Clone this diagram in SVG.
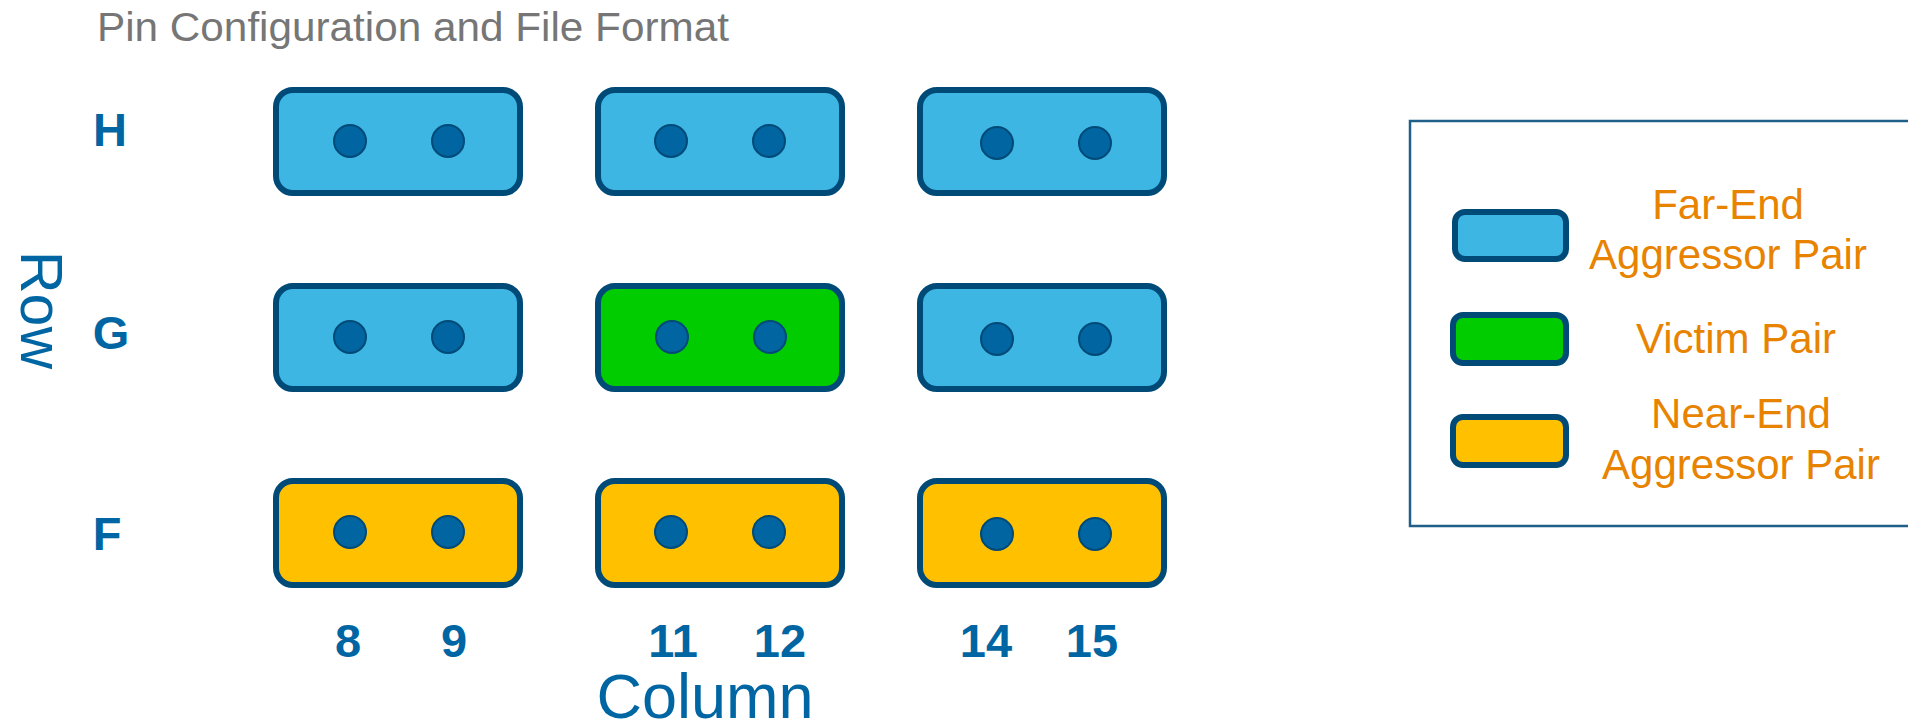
<svg xmlns="http://www.w3.org/2000/svg" width="1908" height="722" viewBox="0 0 1908 722">
<style>
.pair{stroke:#004a78;stroke-width:6}
.blue{fill:#3db6e3}
.green{fill:#00cc00}
.yellow{fill:#ffc000}
.pin{fill:#0065a0;stroke:#004a78;stroke-width:2}
.title{font-family:"Liberation Sans",Arial,sans-serif;font-size:40px;fill:#767676}
.rowlbl{font-family:"Liberation Sans",Arial,sans-serif;font-size:47px;font-weight:bold;fill:#0066a3;text-anchor:middle}
.axis{font-family:"Liberation Sans",Arial,sans-serif;fill:#0066a3;text-anchor:middle}
.leg{font-family:"Liberation Sans",Arial,sans-serif;font-size:42px;fill:#e88300;text-anchor:middle}
</style>
<rect width="1908" height="722" fill="#ffffff"/>
<text class="title" x="97" y="41" textLength="632" lengthAdjust="spacingAndGlyphs">Pin Configuration and File Format</text>

<g id="axis-labels">
<text class="axis" font-size="59" transform="translate(21,310) rotate(90)">Row</text>
<text class="rowlbl" x="110" y="146">H</text>
<text class="rowlbl" x="111" y="349">G</text>
<text class="rowlbl" x="107" y="550">F</text>
<text class="rowlbl" x="348" y="657">8</text>
<text class="rowlbl" x="454" y="657">9</text>
<text class="rowlbl" x="673" y="657">11</text>
<text class="rowlbl" x="780" y="657">12</text>
<text class="rowlbl" x="986" y="657">14</text>
<text class="rowlbl" x="1092" y="657">15</text>
<text class="axis" font-size="63" x="705" y="718">Column</text>
</g>

<g id="H8-9"><rect class="pair blue" x="276" y="90" width="244" height="103" rx="17"/><circle class="pin" cx="350" cy="141" r="16"/><circle class="pin" cx="448" cy="141" r="16"/></g>
<g id="H11-12"><rect class="pair blue" x="598" y="90" width="244" height="103" rx="17"/><circle class="pin" cx="671" cy="141" r="16"/><circle class="pin" cx="769" cy="141" r="16"/></g>
<g id="H14-15"><rect class="pair blue" x="920" y="90" width="244" height="103" rx="17"/><circle class="pin" cx="997" cy="143" r="16"/><circle class="pin" cx="1095" cy="143" r="16"/></g>

<g id="G8-9"><rect class="pair blue" x="276" y="286" width="244" height="103" rx="17"/><circle class="pin" cx="350" cy="337" r="16"/><circle class="pin" cx="448" cy="337" r="16"/></g>
<g id="G11-12"><rect class="pair green" x="598" y="286" width="244" height="103" rx="17"/><circle class="pin" cx="672" cy="337" r="16"/><circle class="pin" cx="770" cy="337" r="16"/></g>
<g id="G14-15"><rect class="pair blue" x="920" y="286" width="244" height="103" rx="17"/><circle class="pin" cx="997" cy="339" r="16"/><circle class="pin" cx="1095" cy="339" r="16"/></g>

<g id="F8-9"><rect class="pair yellow" x="276" y="481" width="244" height="104" rx="17"/><circle class="pin" cx="350" cy="532" r="16"/><circle class="pin" cx="448" cy="532" r="16"/></g>
<g id="F11-12"><rect class="pair yellow" x="598" y="481" width="244" height="104" rx="17"/><circle class="pin" cx="671" cy="532" r="16"/><circle class="pin" cx="769" cy="532" r="16"/></g>
<g id="F14-15"><rect class="pair yellow" x="920" y="481" width="244" height="104" rx="17"/><circle class="pin" cx="997" cy="534" r="16"/><circle class="pin" cx="1095" cy="534" r="16"/></g>

<g id="connectors"></g>

<g id="legend">
<rect x="1410" y="121" width="520" height="405" fill="none" stroke="#1f5f88" stroke-width="2.5"/>
<rect class="pair blue" x="1455" y="212" width="111" height="47" rx="10"/>
<rect class="pair green" x="1453" y="315" width="113" height="48" rx="10"/>
<rect class="pair yellow" x="1453" y="417" width="113" height="48" rx="10"/>
<text class="leg" x="1728" y="219">Far-End</text>
<text class="leg" x="1728" y="269">Aggressor Pair</text>
<text class="leg" x="1736" y="353">Victim Pair</text>
<text class="leg" x="1741" y="428">Near-End</text>
<text class="leg" x="1741" y="479">Aggressor Pair</text>
</g>
</svg>
